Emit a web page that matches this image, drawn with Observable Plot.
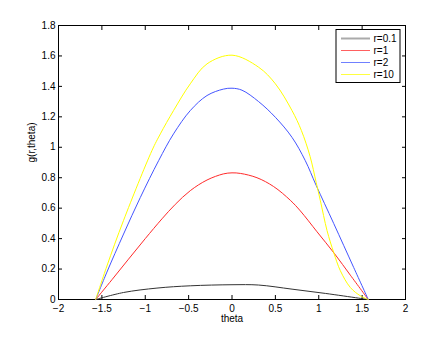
<!DOCTYPE html>
<html><head><meta charset="utf-8">
<script src="https://cdn.jsdelivr.net/npm/d3@7"></script>
<script src="https://cdn.jsdelivr.net/npm/@observablehq/plot@0.6"></script>
<style>
body{margin:0;background:#fff;}
#chart{position:relative;width:448px;height:337px;}
svg{font-family:"Liberation Sans",Arial,Helvetica,sans-serif;}
</style>
</head><body><div id="chart"></div>
<script>
// ---- tick labels ----
const xTicks = [-2, -1.5, -1, -0.5, 0, 0.5, 1, 1.5, 2];
const yTicks = [0, 0.2, 0.4, 0.6, 0.8, 1, 1.2, 1.4, 1.6, 1.8];

// ---- series ----
const seriesLabels = ["r=0.1", "r=1", "r=2", "r=10"];
const seriesColors = ["#333333", "#ff2a2a", "#4455ff", "#ffff00"];
const legendColors = ["#aaaaaa", "#ff6060", "#7080ff", "#ffff40"];

const r01Theta = [-1.571, -1.25, -0.865, -0.481, 0, 0.307, 0.692, 1.076, 1.46, 1.571];
const r01G     = [0, 0.046, 0.075, 0.09, 0.097, 0.095, 0.068, 0.04, 0.009, 0];

const r1Theta = [-1.571, -1.384, -1.193, -1.0, -0.807, -0.654, -0.481, -0.288, -0.1, 0, 0.1, 0.288, 0.48, 0.672, 0.788, 0.98, 1.183, 1.364, 1.571];
const r1G     = [0, 0.13, 0.265, 0.4, 0.53, 0.625, 0.715, 0.785, 0.825, 0.832, 0.828, 0.8, 0.742, 0.652, 0.582, 0.445, 0.3, 0.16, 0];

const r2Theta = [-1.571, -1.442, -1.25, -1.057, -0.846, -0.674, -0.481, -0.288, -0.1, 0, 0.115, 0.307, 0.5, 0.692, 0.845, 0.97, 1.172, 1.403, 1.571];
const r2G     = [0, 0.18, 0.43, 0.67, 0.912, 1.088, 1.241, 1.34, 1.382, 1.388, 1.375, 1.3, 1.197, 1.065, 0.912, 0.75, 0.5, 0.21, 0];

const r10Theta = [-1.571, -1.442, -1.25, -0.923, -0.826, -0.674, -0.481, -0.288, 0, 0.307, 0.5, 0.692, 0.8, 0.9, 0.97, 1.019, 1.096, 1.172, 1.249, 1.364, 1.48, 1.571];
const r10G     = [0, 0.22, 0.52, 0.978, 1.088, 1.241, 1.417, 1.548, 1.605, 1.526, 1.417, 1.241, 1.11, 0.94, 0.77, 0.648, 0.452, 0.309, 0.189, 0.079, 0.024, 0];

const xLabel = "theta";
const yLabel = "g(r,theta)";

const thetas = [r01Theta, r1Theta, r2Theta, r10Theta];
const gs = [r01G, r1G, r2G, r10G];

const rows = [];
seriesLabels.forEach((lab, i) => {
  thetas[i].forEach((t, j) => rows.push({series: lab, theta: t, g: gs[i][j]}));
});

const W = 448, H = 337;
const font = "'Liberation Sans', Arial, Helvetica, sans-serif";
const fmt = d => (d < 0 ? "\u2212" : "") + String(Math.abs(d));

const chart = Plot.plot({
  width: W, height: H,
  marginLeft: 58, marginRight: 43, marginTop: 25, marginBottom: 38,
  style: {fontFamily: font, fontSize: "10px", background: "#fff", color: "#000"},
  x: {domain: [-2, 2]},
  y: {domain: [0, 1.8]},
  color: {domain: seriesLabels, range: seriesColors},
  marks: [
    Plot.frame({stroke: "#000", strokeWidth: 1}),
    Plot.axisX({ticks: xTicks, anchor: "bottom", tickSize: -4, tickPadding: 9, tickFormat: fmt, label: null, fontSize: 10}),
    Plot.axisX({ticks: xTicks, anchor: "top", tickSize: -4, tickFormat: () => "", label: null}),
    Plot.axisY({ticks: yTicks, anchor: "left", tickSize: -4, tickPadding: 7, tickFormat: fmt, label: null, fontSize: 10}),
    Plot.axisY({ticks: yTicks, anchor: "right", tickSize: -4, tickFormat: () => "", label: null}),
    Plot.line(rows, {x: "theta", y: "g", z: "series", stroke: "series", strokeWidth: 1, curve: "catmull-rom"}),
    Plot.text([yLabel], {text: d => d, frameAnchor: "left", dx: -27, rotate: -90, fontSize: 10}),
    Plot.text([xLabel], {text: d => d, frameAnchor: "bottom", dy: 22, fontSize: 10})
  ]
});

document.getElementById("chart").appendChild(chart);

// legend (top-right, inside the frame)
const svg = d3.select(chart);
const lx = W - 43 - 5 - 64, ly = 25 + 4.5, lw = 64, lh = 53, rowH = 12;
const g = svg.append("g").attr("font-family", font).attr("font-size", 10).attr("text-anchor", "start");
g.append("rect").attr("x", lx).attr("y", ly).attr("width", lw).attr("height", lh)
  .attr("fill", "#fff").attr("stroke", "#000").attr("stroke-width", 1);
seriesLabels.forEach((lab, i) => {
  const yy = ly + 9 + i * rowH;
  g.append("line").attr("x1", lx + 5).attr("x2", lx + 34).attr("y1", yy).attr("y2", yy)
    .attr("stroke", legendColors[i]).attr("stroke-width", i === 0 ? 2 : 1);
  g.append("text").attr("x", lx + 37.5).attr("y", yy).attr("dy", "0.35em")
    .attr("text-anchor", "start").attr("fill", "#000").text(lab);
});
</script>
</body></html>
